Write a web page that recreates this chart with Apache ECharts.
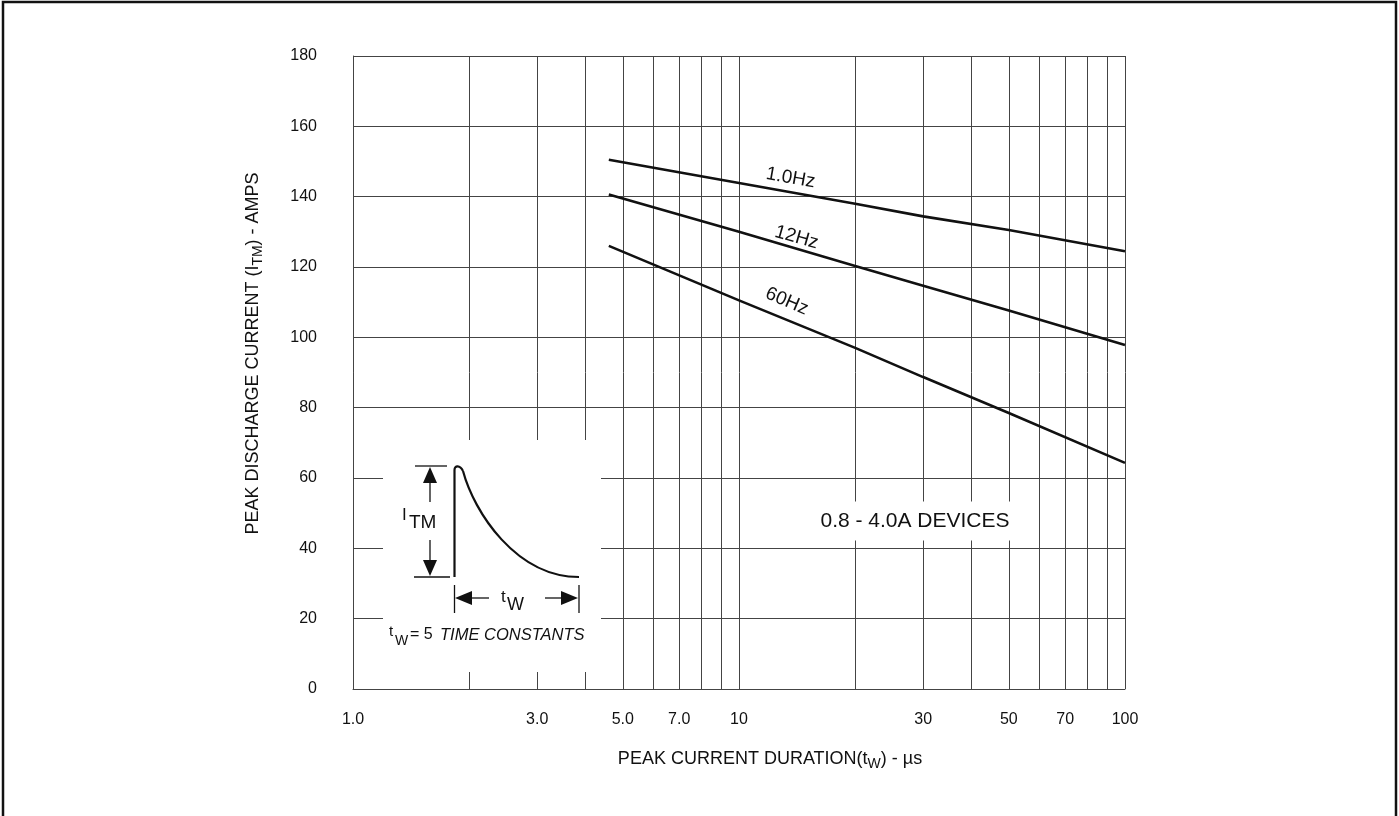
<!DOCTYPE html>
<html><head><meta charset="utf-8">
<script src="https://cdn.jsdelivr.net/npm/echarts@6/dist/echarts.min.js"></script>
<style>html,body{margin:0;padding:0;background:#fff}#c{width:1399px;height:816px}</style>
</head><body><div id="c"></div>
<script>
// ---- data ----
const xGridValues = [1, 2, 3, 4, 5, 6, 7, 8, 9, 10, 20, 30, 40, 50, 60, 70, 80, 90, 100];
const xLabelValues = [1, 3, 5, 7, 10, 30, 50, 70, 100];
const yMin = 0, yMax = 180, yStep = 20;
const seriesNames = ['1.0Hz', '12Hz', '60Hz'];
const duration1Hz = [4.6, 10, 20, 30, 50, 100];
const current1Hz = [150.5, 143.9, 138.0, 134.4, 130.5, 124.5];
const duration12Hz = [4.6, 10, 20, 30, 50, 100];
const current12Hz = [140.6, 130.0, 120.3, 114.7, 107.6, 97.8];
const duration60Hz = [4.6, 10, 20, 30, 50, 100];
const current60Hz = [126.0, 110.5, 97.0, 88.7, 78.5, 64.3];
const labelAnchorX = [13.6, 14.1, 13.3];
const labelAnchorY = [145.3, 128.4, 110.2];

const FONT = '"Liberation Sans", Arial, Helvetica, sans-serif';
const durations = [duration1Hz, duration12Hz, duration60Hz];
const currents = [current1Hz, current12Hz, current60Hz];
const labelRot = [-10, -16, -23];

const series = seriesNames.map((name, i) => ({
  name: name,
  type: 'line',
  z: 10,
  symbol: 'none',
  lineStyle: { color: '#111', width: 2.6 },
  data: durations[i].map((d, k) => [d, currents[i][k]]),
  markPoint: {
    symbol: 'circle', symbolSize: 0, silent: true,
    label: { show: true, formatter: name, rotate: labelRot[i], color: '#111',
      fontFamily: FONT, fontSize: 19, position: 'inside' },
    data: [{ coord: [labelAnchorX[i], labelAnchorY[i]] }]
  }
}));

const chart = echarts.init(document.getElementById('c'), null, { renderer: 'canvas' });
const G = '#444';

// inset graphic (decoration, pixel coordinates)
const line = (x1, y1, x2, y2, w) => ({ type: 'line', z: 4, shape: { x1, y1, x2, y2 }, style: { stroke: '#111', lineWidth: w || 1.3 } });
const poly = (pts) => ({ type: 'polygon', z: 4, shape: { points: pts }, style: { fill: '#111' } });
const bez = (x1, y1, cpx1, cpy1, cpx2, cpy2, x2, y2) => ({ type: 'bezierCurve', z: 4, shape: { x1, y1, cpx1, cpy1, cpx2, cpy2, x2, y2 }, style: { fill: 'none', stroke: '#111', lineWidth: 2.2 } });
const txt = (x, y, t, size, extra) => ({ type: 'text', z: 4, x, y, style: Object.assign({ text: t, fill: '#111', font: size + 'px ' + FONT, textVerticalAlign: 'middle' }, extra || {}) });

const graphic = [
  { type: 'rect', z: 0, shape: { x: 3, y: 2, width: 1393, height: 900 }, style: { fill: 'none', stroke: '#111', lineWidth: 2.5 } },
  { type: 'rect', z: 3, shape: { x: 383, y: 440, width: 218, height: 232 }, style: { fill: '#fff' } },
  // pulse
  line(454.5, 577, 454.5, 470, 2.2),
  bez(454.5, 470, 454.5, 465, 460, 465, 463, 471),
  bez(463, 471, 474, 512, 516, 577, 579, 577),
  // I_TM dimension
  line(415, 466, 447, 466), line(414, 577, 450, 577),
  line(430, 480, 430, 502), poly([[430, 467], [423, 483], [437, 483]]),
  line(430, 540, 430, 562), poly([[430, 576], [423, 560], [437, 560]]),
  txt(402, 515, 'I', 17),
  txt(409, 523, 'TM', 19),
  // t_W dimension
  line(454.5, 585, 454.5, 613), line(579, 585, 579, 613),
  line(470, 598, 489, 598), poly([[455, 598], [472, 591], [472, 605]]),
  line(545, 598, 563, 598), poly([[578, 598], [561, 591], [561, 605]]),
  txt(501, 597, 't', 17),
  txt(507, 605, 'W', 18),
  // caption
  txt(389, 632, 't', 15),
  txt(395, 641, 'W', 14),
  txt(410, 635, '= 5 ', 16),
  txt(440, 635, 'TIME CONSTANTS', 16, { font: 'italic 16.5px ' + FONT }),
  // device label
  { type: 'text', z: 4, x: 915, y: 521, style: { text: '0.8 - 4.0A DEVICES', fill: '#111', font: '21px ' + FONT, textAlign: 'center', textVerticalAlign: 'middle', backgroundColor: '#fff', padding: [9, 14, 9, 14] } }
];

chart.setOption({
  backgroundColor: '#fff',
  animation: false,
  grid: { left: 353, right: 274, top: 56, bottom: 127, containLabel: false },
  xAxis: {
    type: 'log', logBase: 10, min: 1, max: 100,
    name: '{n|PEAK CURRENT DURATION(t}{s|W}{n|) - µs}',
    nameLocation: 'middle', nameGap: 58,
    nameTextStyle: { padding: [0, 0, 0, 62], rich: {
      n: { fontSize: 18, fontFamily: FONT, color: '#111', lineHeight: 24, verticalAlign: 'middle' },
      s: { fontSize: 14, fontFamily: FONT, color: '#111', lineHeight: 24, verticalAlign: 'bottom', padding: [8, 0, 0, 0] } } },
    axisLine: { show: true, lineStyle: { color: G, width: 1 } },
    axisTick: { show: false, customValues: xGridValues },
    splitLine: { show: true, lineStyle: { color: G, width: 1 } },
    minorSplitLine: { show: false },
    axisLabel: { customValues: xLabelValues, margin: 23, fontSize: 16, fontFamily: FONT, color: '#111',
      formatter: v => (v < 10 ? v.toFixed(1) : String(v)) }
  },
  yAxis: {
    type: 'value', min: yMin, max: yMax, interval: yStep,
    name: '{n|PEAK DISCHARGE CURRENT (I}{s|TM}{n|) - AMPS}',
    nameLocation: 'middle', nameGap: 88,
    nameTextStyle: { padding: [0, 0, 0, 38], rich: {
      n: { fontSize: 18, fontFamily: FONT, color: '#111', lineHeight: 24, verticalAlign: 'middle' },
      s: { fontSize: 14, fontFamily: FONT, color: '#111', lineHeight: 24, verticalAlign: 'bottom', padding: [8, 0, 0, 0] } } },
    axisLine: { show: true, lineStyle: { color: G, width: 1 } },
    axisTick: { show: false },
    splitLine: { show: true, lineStyle: { color: G, width: 1 } },
    axisLabel: { margin: 36, fontSize: 16, fontFamily: FONT, color: '#111' }
  },
  graphic: graphic,
  series: series
});
</script></body></html>
